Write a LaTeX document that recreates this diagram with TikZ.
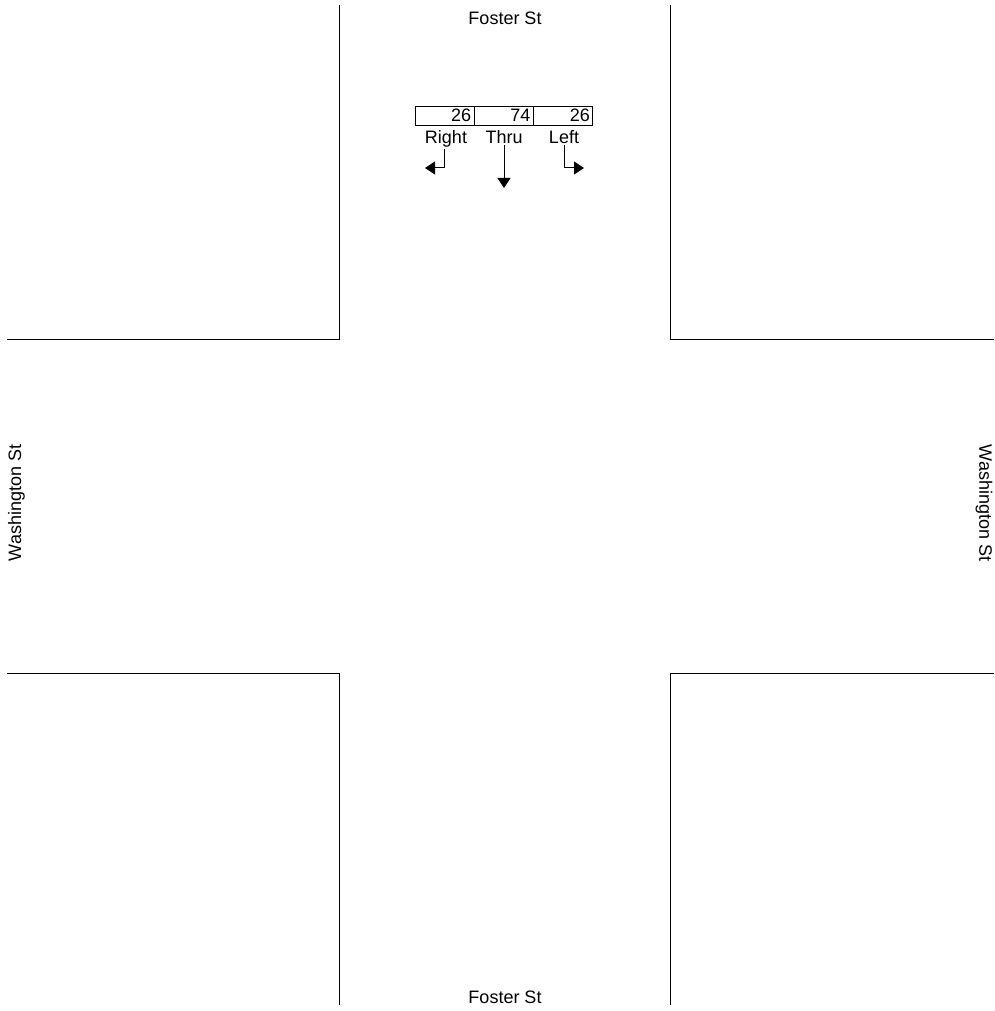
\documentclass[tikz,border=0pt]{standalone}
\usepackage{fontspec}
\setmainfont{Liberation Sans}
\usepackage{tikz}
\usetikzlibrary{arrows.meta,positioning}

\begin{document}
\begin{tikzpicture}[x=1pt,y=-1pt,font=\fontsize{18}{21}\selectfont,>={Triangle[length=10pt,width=13pt]},
  curb/.style={line width=0.9pt},
  cell/.style={draw,line width=0.8pt,text width=53pt,inner xsep=3pt,inner ysep=0pt,minimum height=19pt,align=right},
  turn/.style={anchor=base,inner sep=1pt},
  street/.style={inner sep=0pt}]
\useasboundingbox (0,0) rectangle (994,1011);
\clip (0,0) rectangle (994,1011);
\draw[curb] (339,5) -- (339,339) -- (7,339);
\draw[curb] (670,5) -- (670,339) -- (994,339);
\draw[curb] (7,673) -- (339,673) -- (339,1005);
\draw[curb] (994,673) -- (670,673) -- (670,1005);
\node[street,anchor=base] (fosterN) at (505,25) {Foster St};
\node[street,anchor=base] (fosterS) at (505,1003) {Foster St};
\node[street,rotate=90] (washW) at (16.5,503) {Washington St};
\node[street,rotate=-90] (washE) at (984,503) {Washington St};
\node[cell] (rgtcnt) at (444.7,115.5) {26};
\node[cell] (thrucnt) at (504,115.5) {74};
\node[cell] (lftcnt) at (563.3,115.5) {26};
\node[turn] (rgtlbl) at (446,144) {Right};
\node[turn] (thrulbl) at (504,144) {Thru};
\node[turn] (lftlbl) at (564,144) {Left};
\coordinate (rgtend) at (425,168);
\coordinate (thruend) at (504,188);
\coordinate (lftend) at (584,168);
\draw[->,line width=1pt] ([xshift=-2pt]rgtlbl.south) |- (rgtend);
\draw[->,line width=1pt] (thrulbl.south) -- (thruend);
\draw[->,line width=1pt] (lftlbl.south) |- (lftend);
\end{tikzpicture}
\end{document}
